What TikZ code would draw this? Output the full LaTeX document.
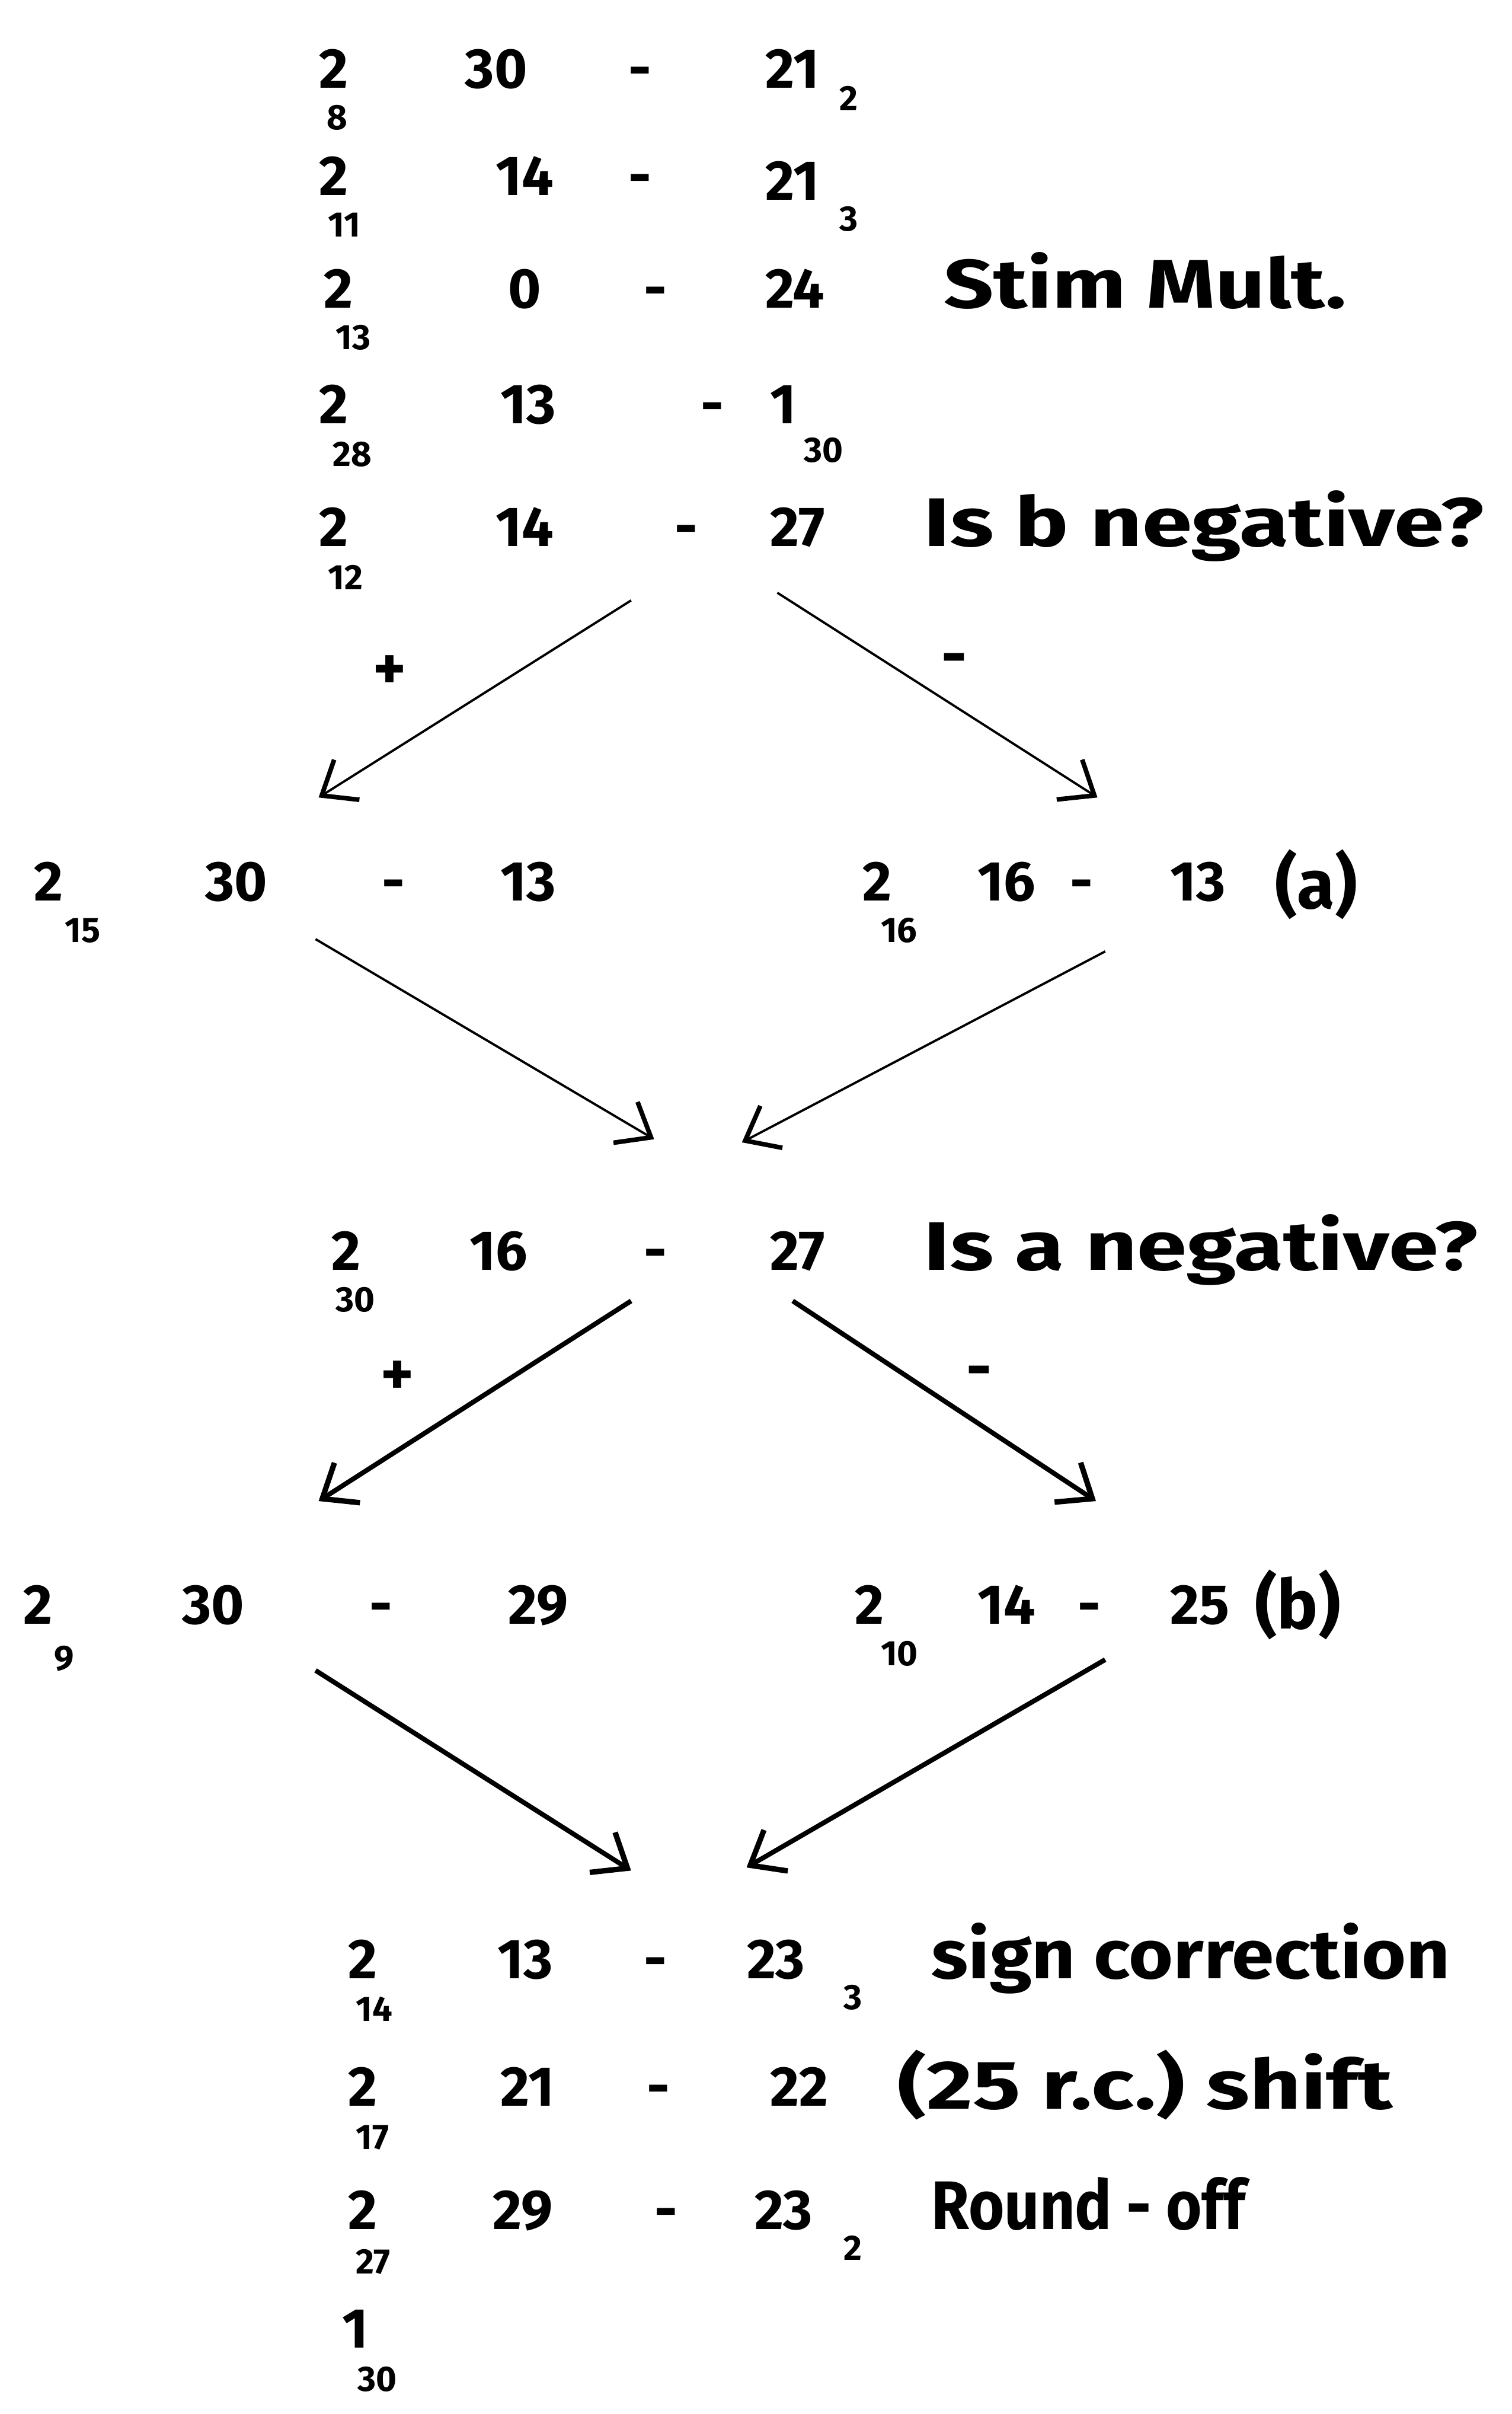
\documentclass[tikz,border=0pt]{standalone}
\usepackage{fontspec}
\setmainfont{Fira Sans}
\usetikzlibrary{arrows.meta}
\newcommand{\hwr}[2]{\resizebox{#1}{\height}{#2}}
\begin{document}
\begin{tikzpicture}[x=0.02598cm,y=-0.02598cm,
  txt/.style={font=\fontsize{27}{30}\selectfont\bfseries, inner sep=0pt, anchor=base west},
  note/.style={font=\fontsize{33}{36}\selectfont\bfseries, inner sep=0pt, anchor=base west},
  subtxt/.style={font=\fontsize{17}{18}\selectfont\bfseries, inner sep=0pt, anchor=base west},
  sgn/.style={font=\fontsize{30}{30}\selectfont\bfseries, inner sep=0pt},
  thinarrow/.style={line width=1.1pt, -{Straight Barb[length=5mm,width=8mm,line width=2.2pt]}},
  thickarrow/.style={line width=2.3pt, -{Straight Barb[length=5mm,width=8mm,line width=2.6pt]}}]
\useasboundingbox (0,0) rectangle (982,1568);
% ---- top block
\node[txt] (r1a) at (207,57) {2};
\node[subtxt] (r1as) at (212,84) {8};
\node[txt] (r1b) at (302,57) {30};
\node[txt] (r1c) at (408,57) {-};
\node[txt] (r1d) at (497,57) {21};
\node[subtxt] (r1ds) at (545,72) {2};

\node[txt] (r2a) at (207,127) {2};
\node[subtxt] (r2as) at (213,154) {11};
\node[txt] (r2b) at (322,127) {14};
\node[txt] (r2c) at (408,127) {-};
\node[txt] (r2d) at (497,130) {21};
\node[subtxt] (r2ds) at (545,150) {3};

\node[txt] (r3a) at (210,200) {2};
\node[subtxt] (r3as) at (218,227) {13};
\node[txt] (r3b) at (330,200) {0};
\node[txt] (r3c) at (418,200) {-};
\node[txt] (r3d) at (497,200) {24};
\node[note] (r3e) at (613,200) {\hwr{6.8cm}{Stim Mult.}};

\node[txt] (r4a) at (207,275) {2};
\node[subtxt] (r4as) at (216,303) {28};
\node[txt] (r4b) at (325,275) {13};
\node[txt] (r4c) at (455,275) {-};
\node[txt] (r4d) at (500,275) {1};
\node[subtxt] (r4ds) at (522,300) {30};

\node[txt] (r5a) at (207,355) {2};
\node[subtxt] (r5as) at (213,383) {12};
\node[txt] (r5b) at (322,355) {14};
\node[txt] (r5c) at (438,355) {-};
\node[txt] (r5d) at (500,355) {27};
\node[note] (r5e) at (600,355) {\hwr{9.45cm}{Is b negative?}};

% ---- first branch
\coordinate (a1s) at (410,390);
\coordinate (a1e) at (207,518);
\coordinate (a2s) at (505,385);
\coordinate (a2e) at (713,518);
\draw[thinarrow] (a1s) -- (a1e);
\draw[thinarrow] (a2s) -- (a2e);
\node[sgn] (p1) at (253,437) {+};
\node[sgn] (m1) at (620,432) {-};

\node[txt] (r6a) at (22,585) {2};
\node[subtxt] (r6as) at (42,612) {15};
\node[txt] (r6b) at (133,585) {30};
\node[txt] (r6c) at (248,585) {-};
\node[txt] (r6d) at (325,585) {13};

\node[txt] (r6f) at (560,585) {2};
\node[subtxt] (r6fs) at (572,612) {16};
\node[txt] (r6g) at (635,585) {16};
\node[txt] (r6h) at (695,585) {-};
\node[txt] (r6i) at (760,585) {13};
\node[note] (r6j) at (828,590) {(a)};

\coordinate (a3s) at (205,610);
\coordinate (a3e) at (425,740);
\coordinate (a4s) at (718,618);
\coordinate (a4e) at (482,742);
\draw[thinarrow] (a3s) -- (a3e);
\draw[thinarrow] (a4s) -- (a4e);

% ---- second test
\node[txt] (r7a) at (215,825) {2};
\node[subtxt] (r7as) at (218,852) {30};
\node[txt] (r7b) at (305,825) {16};
\node[txt] (r7c) at (418,825) {-};
\node[txt] (r7d) at (500,825) {27};
\node[note] (r7e) at (600,825) {\hwr{9.35cm}{Is a negative?}};

\coordinate (a5s) at (410,845);
\coordinate (a5e) at (207,975);
\coordinate (a6s) at (515,845);
\coordinate (a6e) at (712,975);
\draw[thickarrow] (a5s) -- (a5e);
\draw[thickarrow] (a6s) -- (a6e);
\node[sgn] (p2) at (258,895) {+};
\node[sgn] (m2) at (636,895) {-};

\node[txt] (r8a) at (15,1055) {2};
\node[subtxt] (r8as) at (35,1085) {9};
\node[txt] (r8b) at (118,1055) {30};
\node[txt] (r8c) at (240,1055) {-};
\node[txt] (r8d) at (330,1055) {29};

\node[txt] (r8f) at (555,1055) {2};
\node[subtxt] (r8fs) at (572,1082) {10};
\node[txt] (r8g) at (635,1055) {14};
\node[txt] (r8h) at (700,1055) {-};
\node[txt] (r8i) at (760,1055) {25};
\node[note] (r8j) at (815,1058) {(b)};

\coordinate (a7s) at (205,1085);
\coordinate (a7e) at (410,1215);
\coordinate (a8s) at (718,1078);
\coordinate (a8e) at (485,1213);
\draw[thickarrow] (a7s) -- (a7e);
\draw[thickarrow] (a8s) -- (a8e);

% ---- bottom block
\node[txt] (r9a) at (226,1285) {2};
\node[subtxt] (r9as) at (231,1313) {14};
\node[txt] (r9b) at (323,1285) {13};
\node[txt] (r9c) at (418,1285) {-};
\node[txt] (r9d) at (485,1285) {23};
\node[subtxt] (r9ds) at (548,1305) {3};
\node[note] (r9e) at (605,1285) {\hwr{8.75cm}{sign correction}};

\node[txt] (r10a) at (226,1368) {2};
\node[subtxt] (r10as) at (231,1396) {17};
\node[txt] (r10b) at (325,1368) {21};
\node[txt] (r10c) at (420,1368) {-};
\node[txt] (r10d) at (500,1368) {22};
\node[note] (r10e) at (583,1370) {\hwr{8.35cm}{(25 r.c.)\ shift}};

\node[txt] (r11a) at (226,1448) {2};
\node[subtxt] (r11as) at (231,1477) {27};
\node[txt] (r11b) at (320,1448) {29};
\node[txt] (r11c) at (425,1448) {-};
\node[txt] (r11d) at (490,1448) {23};
\node[subtxt] (r11ds) at (548,1468) {2};
\node[note] (r11e) at (605,1448) {\hwr{5.3cm}{Round - off}};

\node[txt] (r12a) at (222,1525) {1};
\node[subtxt] (r12as) at (232,1553) {30};
\end{tikzpicture}
\end{document}
